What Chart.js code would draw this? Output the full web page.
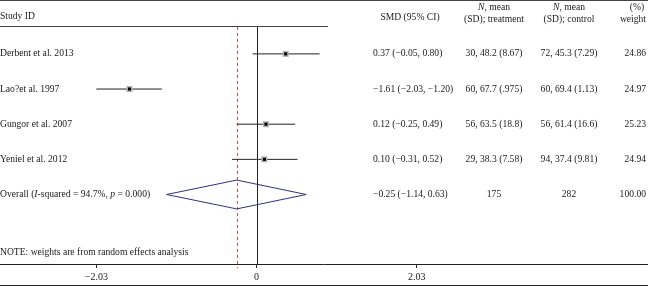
<!DOCTYPE html>
<html><head><meta charset="utf-8">
<script src="https://cdn.jsdelivr.net/npm/chart.js@4/dist/chart.umd.min.js"></script>
<style>html,body{margin:0;padding:0;background:#fff}#wrap{width:648px;height:286px;position:relative}</style>
</head><body><div id="wrap"><canvas id="c" width="648" height="286"></canvas></div>
<script>
// ---- data ----
const studies = ['Derbent et al. 2013', 'Lao?et al. 1997', 'Gungor et al. 2007', 'Yeniel et al. 2012'];
const smd = [0.37, -1.61, 0.12, 0.10];
const ciLow = [-0.05, -2.03, -0.25, -0.31];
const ciHigh = [0.80, -1.20, 0.49, 0.52];
const treatment = ['30, 48.2 (8.67)', '60, 67.7 (.975)', '56, 63.5 (18.8)', '29, 38.3 (7.58)'];
const control = ['72, 45.3 (7.29)', '60, 69.4 (1.13)', '56, 61.4 (16.6)', '94, 37.4 (9.81)'];
const weights = [24.86, 24.97, 25.23, 24.94];
const overallEst = [-0.25, -1.14, 0.63];   // SMD, low, high
const overallN = [175, 282];
const overallWeight = [100.00];
const xTicks = [-2.03, 0, 2.03];
const noteText = 'NOTE: weights are from random effects analysis';

// ---- helpers ----
const fmt = v => (v < 0 ? '\u2212' : '') + Math.abs(v).toFixed(2);
const ciText = (e, l, h) => `${fmt(e)} (${fmt(l)}, ${fmt(h)})`;
const SERIF = '"Liberation Serif", "Times New Roman", serif';
const FS = 9.6;
const overallRow = studies.length + 1;

const ciData = [];
studies.forEach((s, i) => {
  ciData.push({x: ciLow[i], y: i + 1}, {x: ciHigh[i], y: i + 1}, {x: ciHigh[i], y: null});
});
const ptData = smd.map((v, i) => ({x: v, y: i + 1}));
const dh = 0.41;
const diamond = [
  {x: overallEst[1], y: overallRow},
  {x: overallEst[0], y: overallRow - dh},
  {x: overallEst[2], y: overallRow},
  {x: overallEst[0], y: overallRow + dh},
  {x: overallEst[1], y: overallRow}
];

function drawRich(ctx, parts, x, y, align) {
  let total = 0;
  parts.forEach(p => { ctx.font = (p[1] ? 'italic ' : '') + FS + 'px ' + SERIF; total += ctx.measureText(p[0]).width; });
  let cx = align === 'center' ? x - total / 2 : (align === 'right' ? x - total : x);
  ctx.textAlign = 'left';
  parts.forEach(p => { ctx.font = (p[1] ? 'italic ' : '') + FS + 'px ' + SERIF; ctx.fillText(p[0], cx, y); cx += ctx.measureText(p[0]).width; });
}

const forestText = {
  id: 'forestText',
  beforeDatasetsDraw(chart) {
    const {ctx, chartArea, scales: {x}} = chart;
    ctx.save();
    ctx.strokeStyle = '#222'; ctx.lineWidth = 1;
    const x0 = Math.round(x.getPixelForValue(0)) + 0.5;
    ctx.beginPath(); ctx.moveTo(x0, chartArea.top); ctx.lineTo(x0, chartArea.bottom); ctx.stroke();
    const xo = Math.round(x.getPixelForValue(overallEst[0])) + 0.5;
    ctx.strokeStyle = '#c8504a'; ctx.setLineDash([3, 3]);
    ctx.beginPath(); ctx.moveTo(xo, chartArea.top); ctx.lineTo(xo, chartArea.bottom + 4); ctx.stroke();
    ctx.restore();
  },
  afterDraw(chart) {
    const {ctx, chartArea, scales: {y}} = chart;
    const W = chart.width;
    ctx.save();
    ctx.strokeStyle = '#444'; ctx.lineWidth = 1;
    ctx.beginPath(); ctx.moveTo(0, 0.5); ctx.lineTo(W, 0.5); ctx.stroke();
    ctx.beginPath(); ctx.moveTo(0, chartArea.top - 0.5); ctx.lineTo(328, chartArea.top - 0.5); ctx.stroke();
    ctx.strokeStyle = '#222';
    ctx.beginPath(); ctx.moveTo(0, 285.5); ctx.lineTo(W, 285.5); ctx.stroke();

    ctx.fillStyle = '#1a1a1a';
    ctx.textBaseline = 'middle';
    const cSMD = 373, cT = 494, cC = 569, cW = 646;
    drawRich(ctx, [['Study ID', false]], 0, 16.5, 'left');
    drawRich(ctx, [['SMD (95% CI)', false]], 410, 17, 'center');
    drawRich(ctx, [['N', true], [', mean', false]], cT, 7, 'center');
    drawRich(ctx, [['(SD); treatment', false]], cT, 19, 'center');
    drawRich(ctx, [['N', true], [', mean', false]], cC, 7, 'center');
    drawRich(ctx, [['(SD); control', false]], cC, 19, 'center');
    drawRich(ctx, [['(%)', false]], 637, 7, 'center');
    drawRich(ctx, [['weight', false]], cW, 19, 'right');
    studies.forEach((s, i) => {
      const py = y.getPixelForValue(i + 1);
      drawRich(ctx, [[s, false]], 0, py, 'left');
      drawRich(ctx, [[ciText(smd[i], ciLow[i], ciHigh[i]), false]], cSMD, py, 'left');
      drawRich(ctx, [[treatment[i], false]], cT, py, 'center');
      drawRich(ctx, [[control[i], false]], cC, py, 'center');
      drawRich(ctx, [[weights[i].toFixed(2), false]], cW, py, 'right');
    });
    const oy = y.getPixelForValue(overallRow);
    drawRich(ctx, [['Overall (', false], ['I', true], ['-squared = 94.7%, ', false], ['p', true], [' = 0.000)', false]], 0, oy, 'left');
    drawRich(ctx, [[ciText(overallEst[0], overallEst[1], overallEst[2]), false]], cSMD, oy, 'left');
    drawRich(ctx, [[String(overallN[0]), false]], cT, oy, 'center');
    drawRich(ctx, [[String(overallN[1]), false]], cC, oy, 'center');
    drawRich(ctx, [[overallWeight[0].toFixed(2), false]], cW, oy, 'right');
    drawRich(ctx, [[noteText, false]], 0, chartArea.bottom - 12, 'left');
    ctx.restore();
  }
};

new Chart(document.getElementById('c'), {
  type: 'scatter',
  data: {
    datasets: [
      {data: ciData, showLine: true, spanGaps: false, borderColor: '#222', borderWidth: 1, pointRadius: 0, order: 3},
      {data: ptData, pointStyle: 'rect', pointRadius: 4.3, backgroundColor: '#b4b4b4', borderWidth: 0, order: 2},
      {data: ptData, pointStyle: 'rect', pointRadius: 2.2, backgroundColor: '#000', borderWidth: 0, order: 1},
      {data: diamond, showLine: true, borderColor: '#2e3080', borderWidth: 1, pointRadius: 0, fill: false, order: 0}
    ]
  },
  options: {
    responsive: false,
    animation: false,
    devicePixelRatio: 1,
    layout: {autoPadding: false, padding: {top: 27, left: 0, right: 0, bottom: 0}},
    plugins: {legend: {display: false}, tooltip: {enabled: false}},
    scales: {
      x: {
        type: 'linear', min: -256.5 / 78.9, max: 391.5 / 78.9,
        afterBuildTicks: s => { s.ticks = xTicks.map(v => ({value: v})); },
        ticks: {
          autoSkip: false, maxRotation: 0, padding: 3, color: '#1a1a1a',
          font: {family: SERIF, size: 10},
          callback: v => v === 0 ? '0' : fmt(v)
        },
        grid: {display: true, drawOnChartArea: false, drawTicks: true, tickLength: 4, color: '#222'},
        border: {display: true, color: '#222', width: 1}
      },
      y: {type: 'linear', display: false, reverse: true, min: 0.235, max: 6.977}
    }
  },
  plugins: [forestText]
});
</script></body></html>
